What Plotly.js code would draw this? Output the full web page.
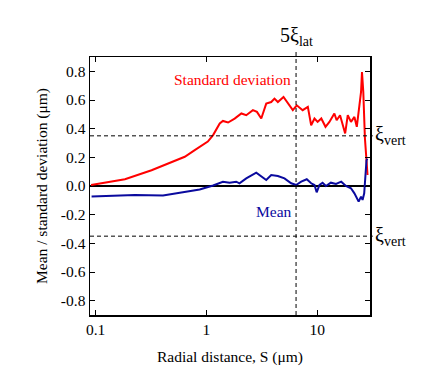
<!DOCTYPE html>
<html>
<head>
<meta charset="utf-8">
<script src="https://cdn.plot.ly/plotly-3.0.1.min.js"></script>
<style>
  body { margin: 0; background: #fff; }
  #chart { width: 436px; height: 388px; }
</style>
</head>
<body>
<div id="chart"></div>
<script>
// standard deviation (red)
const stdX = [0.091, 0.184, 0.32, 0.638, 0.785, 1.03, 1.15, 1.32, 1.41, 1.57, 1.80, 2.07, 2.29, 2.63, 2.86, 3.13,
  3.47, 3.85, 4.12, 4.42, 4.97, 5.44, 6.03, 6.55, 7.4, 8.24, 8.83, 9.46, 10.1, 10.9, 11.9, 12.9, 14.3, 15.0,
  16.1, 17.9, 18.9, 20.2, 21.7, 22.8, 23.7, 24.9, 25.4, 26.1, 27.0, 28.1, 28.5];
const stdY = [0.007, 0.047, 0.11, 0.204, 0.25, 0.31, 0.355, 0.436, 0.454, 0.443, 0.47, 0.506, 0.494, 0.529, 0.517, 0.471,
  0.575, 0.586, 0.61, 0.586, 0.621, 0.575, 0.529, 0.563, 0.529, 0.552, 0.424, 0.471, 0.447, 0.471, 0.413, 0.447, 0.506, 0.459,
  0.494, 0.367, 0.494, 0.447, 0.482, 0.413, 0.541, 0.656, 0.795, 0.656, 0.332, 0.146, 0.077];

// mean (blue)
const meanX = [0.092, 0.226, 0.406, 0.638, 0.87, 1.15, 1.41, 1.62, 1.86, 1.99, 2.29, 2.82, 3.13, 3.47, 3.85, 4.42,
  5.07, 5.83, 6.46, 7.18, 8.06, 8.83, 9.46, 9.9, 10.5, 11.2, 12.0, 13.3, 14.8, 16.5, 18.2, 20.2, 21.7, 23.7,
  24.9, 25.7, 26.6, 27.2, 27.9, 28.4];
const meanY = [-0.074, -0.063, -0.067, -0.04, -0.025, 0.004, 0.03, 0.023, 0.03, 0.019, 0.053, 0.093, 0.07, 0.042, 0.077, 0.07,
  0.053, 0.019, 0.007, 0.03, 0.047, 0.019, 0.007, -0.044, 0.007, 0.023, 0, 0.023, 0.014, 0.03, 0, -0.016, -0.051, -0.109,
  -0.074, -0.097, -0.051, 0.088, 0.18, 0.19];

const xTicks = [0.1, 1, 10];
const xTickText = ["0.1", "1", "10"];
const yTicks = [0.8, 0.6, 0.4, 0.2, 0, -0.2, -0.4, -0.6, -0.8];
const yTickText = ["0.8", "0.6", "0.4", "0.2", "0.0", "-0.2", "-0.4", "-0.6", "-0.8"];

const xiVert = 0.35;
const xiLat5 = 6.45;

const serif = "Liberation Serif";
const fs = 15.5;
const dash = "4px,3px";

const data = [
  {x: stdX, y: stdY, mode: "lines", line: {color: "#ff0000", width: 2}, hoverinfo: "none"},
  {x: meanX, y: meanY, mode: "lines", line: {color: "#0a0a9e", width: 2}, hoverinfo: "none"}
];

const layout = {
  width: 436, height: 388,
  margin: {l: 90, r: 66, t: 57, b: 73},
  paper_bgcolor: "#fff", plot_bgcolor: "#fff",
  showlegend: false,
  font: {family: serif, size: fs, color: "#000"},
  xaxis: {
    type: "log", range: [Math.log10(0.089), Math.log10(30)],
    tickvals: xTicks, ticktext: xTickText,
    ticks: "inside", ticklen: 5, tickcolor: "#000",
    tickfont: {family: serif, size: fs},
    showline: true, linecolor: "#000", linewidth: 1.5, mirror: "ticks",
    showgrid: false, zeroline: false,
    title: {text: "Radial distance, S (μm)", font: {family: serif, size: fs}, standoff: 14}
  },
  yaxis: {
    range: [-0.9, 0.9],
    tickvals: yTicks, ticktext: yTickText,
    ticks: "inside", ticklen: 5, tickcolor: "#000",
    tickfont: {family: serif, size: fs},
    showline: true, linecolor: "#000", linewidth: 1.5, mirror: "ticks",
    showgrid: false, zeroline: true, zerolinecolor: "#000", zerolinewidth: 1.2,
    title: {text: "Mean / standard deviation (μm)", font: {family: serif, size: fs}, standoff: 9}
  },
  shapes: [
    {type: "line", xref: "paper", x0: 0, x1: 1.01, yref: "y", y0: xiVert, y1: xiVert, line: {color: "#000", width: 1, dash: dash}},
    {type: "line", xref: "paper", x0: 0, x1: 1.01, yref: "y", y0: -xiVert, y1: -xiVert, line: {color: "#000", width: 1, dash: dash}},
    {type: "line", xref: "x", x0: xiLat5, x1: xiLat5, yref: "paper", y0: 0, y1: 1.02, line: {color: "#000", width: 1, dash: dash}}
  ],
  annotations: [
    {xref: "x", x: Math.log10(xiLat5), yref: "paper", y: 1.025, yanchor: "bottom", showarrow: false,
     text: "5ξ<sub>lat</sub>", font: {family: serif, size: 20}},
    {xref: "paper", x: 1.01, yref: "y", y: xiVert, xanchor: "left", showarrow: false,
     text: "ξ<sub>vert</sub>", font: {family: serif, size: 20}},
    {xref: "paper", x: 1.01, yref: "y", y: -xiVert, xanchor: "left", showarrow: false,
     text: "ξ<sub>vert</sub>", font: {family: serif, size: 20}},
    {xref: "x", x: Math.log10(1.73), yref: "y", y: 0.745, showarrow: false,
     text: "Standard deviation", font: {family: serif, size: fs, color: "#ff0000"}},
    {xref: "x", x: Math.log10(4.12), yref: "y", y: -0.18, showarrow: false,
     text: "Mean", font: {family: serif, size: fs, color: "#0a0a9e"}}
  ]
};

Plotly.newPlot("chart", data, layout, {staticPlot: true});
</script>
</body>
</html>
